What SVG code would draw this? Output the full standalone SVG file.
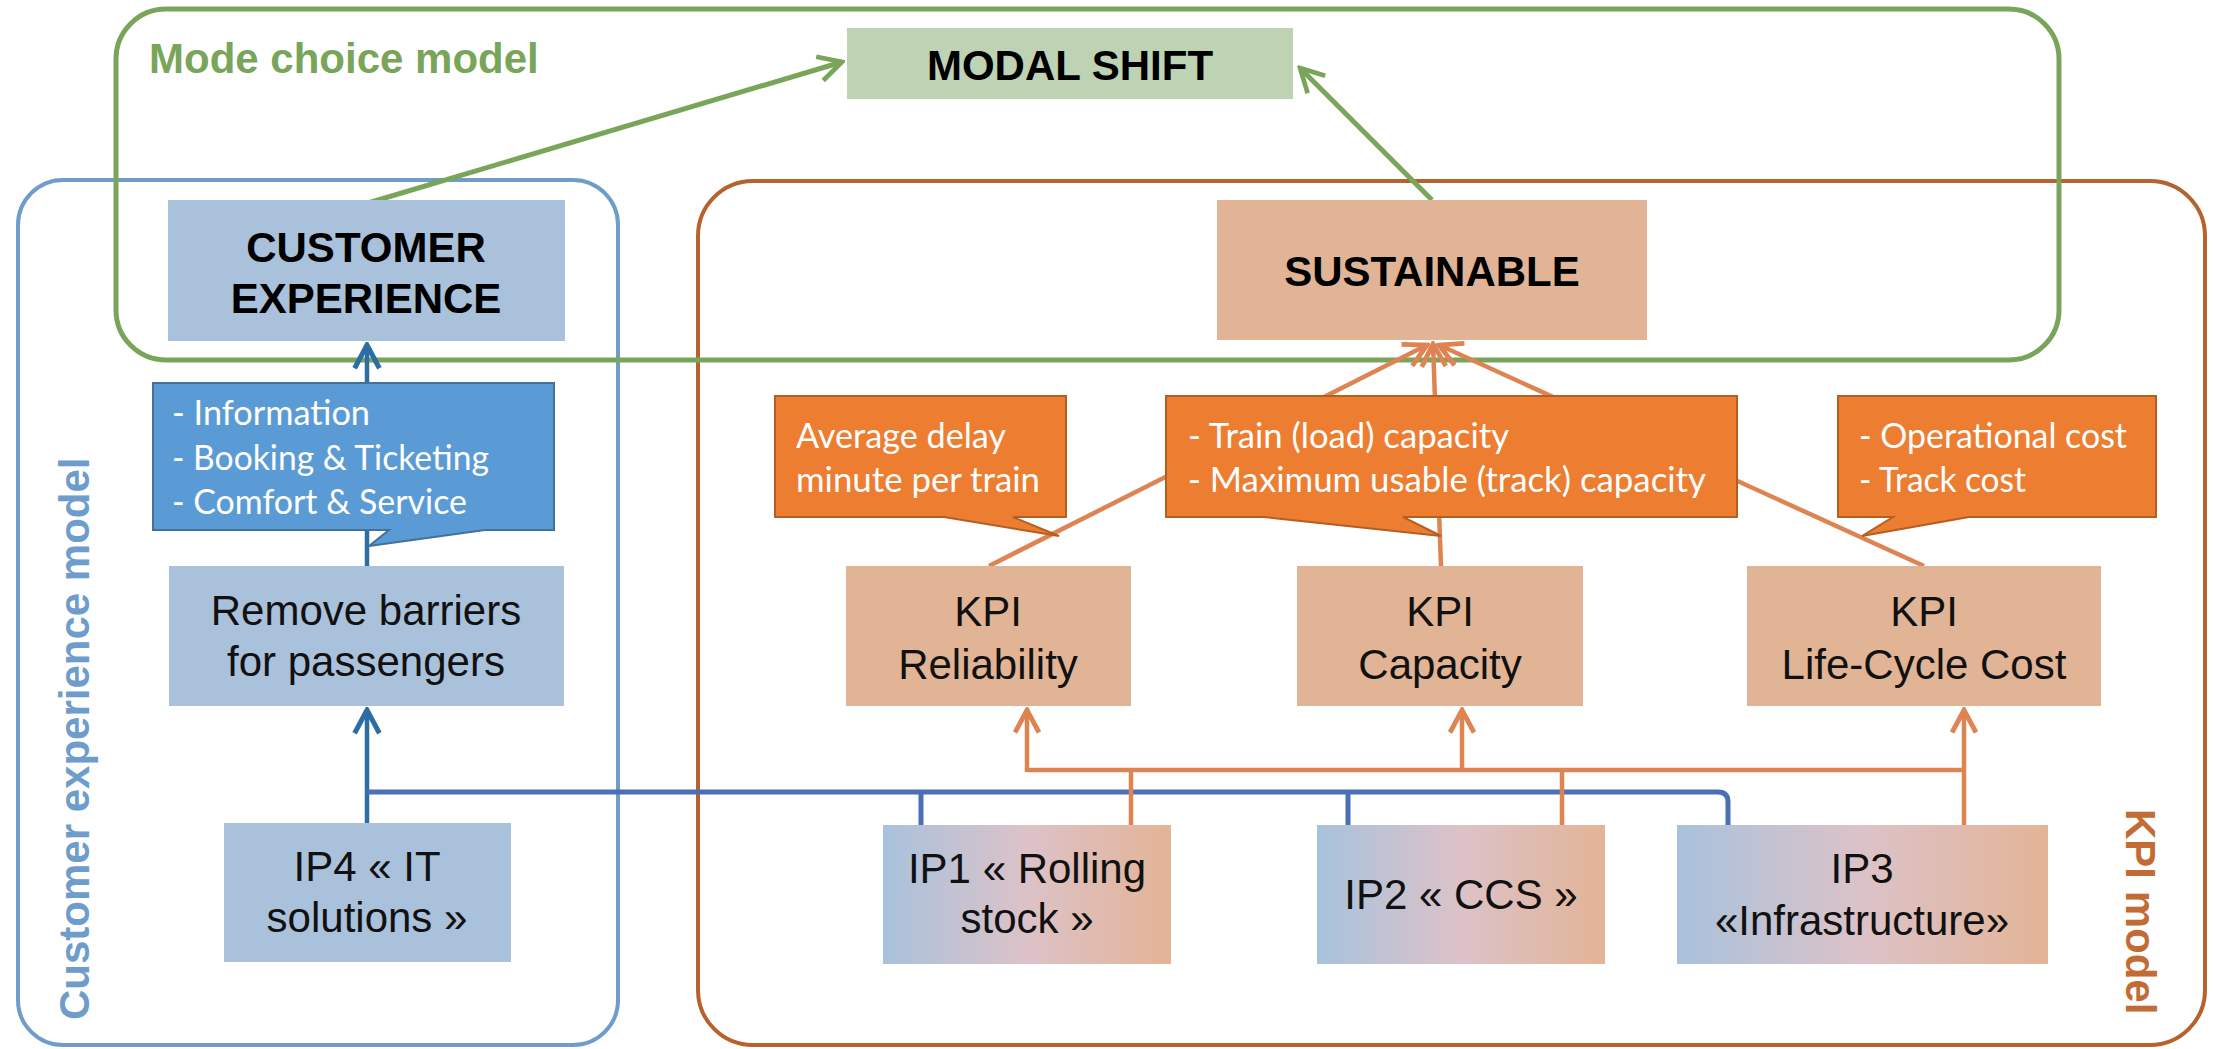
<svg xmlns="http://www.w3.org/2000/svg" width="2214" height="1049" viewBox="0 0 2214 1049">
<defs>
<style>
.lbl{font-family:"Liberation Sans",Arial,sans-serif;font-size:42px;fill:#111;text-anchor:middle}
.hdr{font-family:"Liberation Sans",Arial,sans-serif;font-size:42px;font-weight:bold;fill:#000;text-anchor:middle}
.call{font-family:Lato,"Open Sans",sans-serif;font-size:35px;fill:#fff}
.blue{fill:#a9c1da}
.kpi{fill:#e2b496}
.co{fill:#ed7d31;stroke:#b45e22;stroke-width:2}
.cb{fill:#5b9bd5;stroke:#41719c;stroke-width:2}
.ol{stroke:#dd8452;stroke-width:4.5;fill:none}
</style>
<linearGradient id="ipg" x1="0" y1="0" x2="1" y2="0">
<stop offset="0" stop-color="#a8c2dc"/>
<stop offset="0.5" stop-color="#dcc2c8"/>
<stop offset="1" stop-color="#e3b496"/>
</linearGradient>
<marker id="ag" viewBox="0 0 20 20" refX="18" refY="10" markerWidth="31" markerHeight="31" markerUnits="userSpaceOnUse" orient="auto"><path d="M3,2 L18,10 L3,18" fill="none" stroke="#78a55a" stroke-width="3"/></marker>
<marker id="ab" viewBox="0 0 20 20" refX="18" refY="10" markerWidth="31" markerHeight="31" markerUnits="userSpaceOnUse" orient="auto"><path d="M3,2 L18,10 L3,18" fill="none" stroke="#2e6da4" stroke-width="3.2"/></marker>
<marker id="ao" viewBox="0 0 20 20" refX="18" refY="10" markerWidth="30" markerHeight="30" markerUnits="userSpaceOnUse" orient="auto"><path d="M3,2 L18,10 L3,18" fill="none" stroke="#dd8452" stroke-width="3.2"/></marker>
</defs>
<rect width="2214" height="1049" fill="#fff"/>

<g id="kpi-model-frame">
<rect x="698" y="181" width="1507" height="864" rx="55" fill="none" stroke="#b5622f" stroke-width="4"/>
<text transform="translate(2126,809) rotate(90)" font-family="Liberation Sans,Arial,sans-serif" font-size="42" font-weight="bold" fill="#c26b34">KPI model</text>
</g>
<g id="customer-experience-frame">
<rect x="18" y="180" width="600" height="865" rx="45" fill="none" stroke="#6f9cc9" stroke-width="4"/>
<text transform="translate(89,1020) rotate(-90)" font-family="Liberation Sans,Arial,sans-serif" font-size="42" font-weight="bold" fill="#6e9ccb">Customer experience model</text>
</g>
<g id="mode-choice-frame">
<rect x="116" y="9" width="1943" height="351" rx="50" fill="none" stroke="#78a55a" stroke-width="5"/>
<text x="149" y="73" font-family="Liberation Sans,Arial,sans-serif" font-size="42" font-weight="bold" fill="#78a55a">Mode choice model</text>
</g>

<g id="connectors">
<line x1="368" y1="203" x2="842" y2="62" stroke="#78a55a" stroke-width="5" marker-end="url(#ag)"/>
<line x1="1432" y1="200" x2="1300" y2="68" stroke="#78a55a" stroke-width="5" marker-end="url(#ag)"/>
<line x1="367" y1="566" x2="367" y2="345" stroke="#2e6da4" stroke-width="4.5" marker-end="url(#ab)"/>
<line x1="367" y1="823" x2="367" y2="710" stroke="#2e6da4" stroke-width="4.5" marker-end="url(#ab)"/>
<path d="M367,792 H1718 Q1728,792 1728,802 V825 M921,792 V825 M1348,792 V825" fill="none" stroke="#4a6fb5" stroke-width="5"/>
<line class="ol" x1="989" y1="566" x2="1427" y2="345" marker-end="url(#ao)"/>
<line class="ol" x1="1441" y1="566" x2="1433" y2="344" marker-end="url(#ao)"/>
<line class="ol" x1="1924" y1="566" x2="1439" y2="345" marker-end="url(#ao)"/>
<path class="ol" d="M1131,825 V770 M1562,825 V770 M1027,770 H1964"/>
<line class="ol" x1="1027" y1="772" x2="1027" y2="710" marker-end="url(#ao)"/>
<line class="ol" x1="1462" y1="772" x2="1462" y2="710" marker-end="url(#ao)"/>
<line class="ol" x1="1964" y1="825" x2="1964" y2="710" marker-end="url(#ao)"/>
</g>

<g id="modal-shift">
<rect x="847" y="28" width="446" height="71" fill="#bed2b4"/>
<text class="hdr" x="1070" y="80" font-size="43">MODAL SHIFT</text>
</g>
<g id="customer-experience">
<rect class="blue" x="168" y="200" width="397" height="141"/>
<text class="hdr" x="366" y="262">CUSTOMER</text>
<text class="hdr" x="366" y="313">EXPERIENCE</text>
</g>
<g id="sustainable">
<rect class="kpi" x="1217" y="200" width="430" height="140"/>
<text class="hdr" x="1432" y="286">SUSTAINABLE</text>
</g>
<g id="callout-cx">
<path class="cb" d="M153,383 H554 V530 H485 L369,546 L389,530 H153 Z"/>
<text class="call" x="172" y="425" textLength="198" lengthAdjust="spacingAndGlyphs">- Information</text>
<text class="call" x="172" y="470" textLength="317" lengthAdjust="spacingAndGlyphs">- Booking &amp; Ticketing</text>
<text class="call" x="172" y="514" textLength="295" lengthAdjust="spacingAndGlyphs">- Comfort &amp; Service</text>
</g>
<g id="callout-delay">
<path class="co" d="M775,396 H1066 V517 H1013 L1059,536 L944,517 H775 Z"/>
<text class="call" x="796" y="448" textLength="210" lengthAdjust="spacingAndGlyphs">Average delay</text>
<text class="call" x="796" y="492" textLength="244" lengthAdjust="spacingAndGlyphs">minute per train</text>
</g>
<g id="callout-capacity">
<path class="co" d="M1166,396 H1737 V517 H1403 L1441,536 L1264,517 H1166 Z"/>
<text class="call" x="1188" y="448" textLength="321" lengthAdjust="spacingAndGlyphs">- Train (load) capacity</text>
<text class="call" x="1188" y="492" textLength="518" lengthAdjust="spacingAndGlyphs">- Maximum usable (track) capacity</text>
</g>
<g id="callout-cost">
<path class="co" d="M1838,396 H2156 V517 H1969 L1862,536 L1893,517 H1838 Z"/>
<text class="call" x="1859" y="448" textLength="268" lengthAdjust="spacingAndGlyphs">- Operational cost</text>
<text class="call" x="1859" y="492" textLength="167" lengthAdjust="spacingAndGlyphs">- Track cost</text>
</g>
<g id="remove-barriers">
<rect class="blue" x="169" y="566" width="395" height="140"/>
<text class="lbl" x="366" y="625">Remove barriers</text>
<text class="lbl" x="366" y="676">for passengers</text>
</g>
<g id="kpi-reliability">
<rect class="kpi" x="846" y="566" width="285" height="140"/>
<text class="lbl" x="988" y="626">KPI</text>
<text class="lbl" x="988" y="679">Reliability</text>
</g>
<g id="kpi-capacity">
<rect class="kpi" x="1297" y="566" width="286" height="140"/>
<text class="lbl" x="1440" y="626">KPI</text>
<text class="lbl" x="1440" y="679">Capacity</text>
</g>
<g id="kpi-lcc">
<rect class="kpi" x="1747" y="566" width="354" height="140"/>
<text class="lbl" x="1924" y="626">KPI</text>
<text class="lbl" x="1924" y="679">Life-Cycle Cost</text>
</g>
<g id="ip4">
<rect class="blue" x="224" y="823" width="287" height="139"/>
<text class="lbl" x="367" y="881">IP4 « IT</text>
<text class="lbl" x="367" y="932">solutions »</text>
</g>
<g id="ip1">
<rect x="883" y="825" width="288" height="139" fill="url(#ipg)"/>
<text class="lbl" x="1027" y="883">IP1 « Rolling</text>
<text class="lbl" x="1027" y="933">stock »</text>
</g>
<g id="ip2">
<rect x="1317" y="825" width="288" height="139" fill="url(#ipg)"/>
<text class="lbl" x="1461" y="909">IP2 « CCS »</text>
</g>
<g id="ip3">
<rect x="1677" y="825" width="371" height="139" fill="url(#ipg)"/>
<text class="lbl" x="1862" y="883">IP3</text>
<text class="lbl" x="1862" y="935">«Infrastructure»</text>
</g>
</svg>
